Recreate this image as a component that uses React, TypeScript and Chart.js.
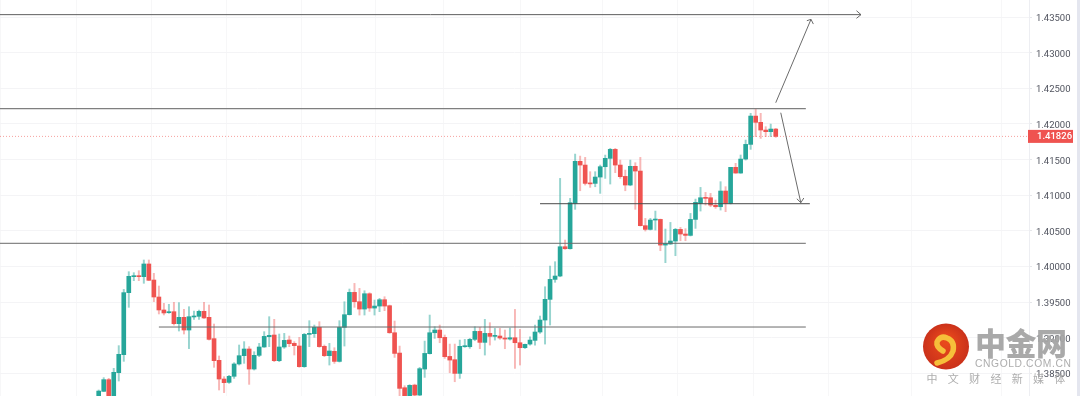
import React, { useEffect, useRef } from "react";
import { Chart, registerables } from "chart.js";

Chart.register(...registerables);

const opens = [
  1.38158,1.38251,1.38415,1.38130,1.38513,1.38765,1.39635,1.39859,1.39868,1.39859,1.40037,1.39812,1.39574,1.39392,1.39354,1.39368,1.39200,1.39289,1.39111,1.39294,
  1.39303,1.39373,1.39289,1.38990,1.38686,1.38424,1.38377,1.38462,1.38635,1.38751,1.38845,1.38564,1.38756,1.38873,1.39018,1.39041,1.38681,1.38873,1.38971,1.38924,
  1.38887,1.38597,1.39050,1.39060,1.39149,1.38882,1.38751,1.38812,1.38671,1.39148,1.39326,1.39639,1.39508,1.39405,1.39620,1.39419,1.39447,1.39536,1.39452,1.39073,
  1.38788,1.38302,1.38158,1.38339,1.38199,1.38564,1.38779,1.39073,1.39111,1.39008,1.38741,1.38695,1.38503,1.38877,1.38877,1.38980,1.39092,1.38938,1.39064,1.39022,
  1.39027,1.38999,1.38984,1.39003,1.38933,1.38863,1.38914,1.38966,1.39083,1.39251,1.39541,1.39821,1.39868,1.40279,1.40251,1.40887,1.41476,1.41424,1.41167,1.41167,
  1.41256,1.41401,1.41518,1.41644,1.41424,1.41265,1.41144,1.41406,1.41340,1.40574,1.40522,1.40653,1.40662,1.40302,1.40317,1.40359,1.40522,1.40457,1.40438,1.40662,
  1.40887,1.40966,1.40966,1.40859,1.40840,1.41060,1.40887,1.41392,1.41312,1.41508,1.41714,1.42111,1.42023,1.41915,1.41892,1.41929,
];
const closes = [
  1.38255,1.38415,1.38116,1.38518,1.38770,1.39635,1.39864,1.39868,1.39859,1.40037,1.39808,1.39574,1.39392,1.39350,1.39368,1.39200,1.39289,1.39111,1.39298,1.39308,
  1.39373,1.39280,1.38980,1.38681,1.38424,1.38373,1.38462,1.38635,1.38751,1.38845,1.38564,1.38756,1.38873,1.39022,1.39036,1.38681,1.38873,1.38966,1.38920,1.38892,
  1.38597,1.39050,1.39064,1.39149,1.38878,1.38751,1.38817,1.38671,1.39148,1.39326,1.39639,1.39508,1.39405,1.39620,1.39419,1.39447,1.39536,1.39447,1.39073,1.38783,
  1.38293,1.38130,1.38335,1.38199,1.38569,1.38783,1.39073,1.39111,1.39003,1.38737,1.38690,1.38503,1.38882,1.38886,1.38980,1.39092,1.38938,1.39064,1.39022,1.39031,
  1.38999,1.38984,1.39003,1.38933,1.38863,1.38910,1.38970,1.39083,1.39251,1.39541,1.39821,1.39868,1.40279,1.40251,1.40896,1.41476,1.41424,1.41167,1.41160,1.41256,
  1.41401,1.41518,1.41644,1.41424,1.41261,1.41144,1.41406,1.41340,1.40574,1.40522,1.40653,1.40667,1.40302,1.40326,1.40359,1.40522,1.40457,1.40438,1.40662,1.40901,
  1.40966,1.40957,1.40863,1.40840,1.41060,1.40887,1.41392,1.41312,1.41508,1.41714,1.42111,1.42023,1.41915,1.41892,1.41929,1.41826,
];
const highs = [
  1.38270,1.38443,1.38434,1.38574,1.38892,1.39681,1.39929,1.39915,1.39943,1.40093,1.40093,1.39906,1.39728,1.39485,1.39471,1.39499,1.39495,1.39401,1.39438,1.39378,
  1.39392,1.39499,1.39462,1.39195,1.38747,1.38457,1.38476,1.38653,1.38901,1.38948,1.38878,1.38807,1.38924,1.39088,1.39298,1.39261,1.39055,1.39064,1.39027,1.38948,
  1.39008,1.39064,1.39242,1.39181,1.39228,1.38901,1.38924,1.38863,1.39242,1.39508,1.39686,1.39765,1.39695,1.39662,1.39634,1.39531,1.39555,1.39578,1.39461,1.39237,
  1.38886,1.38330,1.38345,1.38352,1.38587,1.38956,1.39321,1.39157,1.39181,1.39041,1.38914,1.38914,1.38970,1.38980,1.38994,1.39157,1.39148,1.39260,1.39214,1.39134,
  1.39134,1.39111,1.39139,1.39400,1.39120,1.38914,1.39017,1.39181,1.39307,1.39718,1.40008,1.40069,1.41237,1.40373,1.40957,1.41578,1.41550,1.41532,1.41331,1.41331,
  1.41424,1.41564,1.41658,1.41658,1.41494,1.41354,1.41494,1.41457,1.41532,1.40676,1.40676,1.40779,1.40667,1.40527,1.40620,1.40536,1.40550,1.40532,1.40746,1.40947,
  1.41111,1.41041,1.41027,1.40934,1.41191,1.41121,1.41392,1.41448,1.41565,1.41775,1.42149,1.42205,1.42149,1.41962,1.41999,1.41938,
];
const lows = [
  1.38120,1.38247,1.38100,1.38110,1.38396,1.38672,1.39429,1.39803,1.39803,1.39766,1.39803,1.39509,1.39336,1.39322,1.39345,1.39181,1.39097,1.39055,1.38850,1.39261,
  1.39261,1.39275,1.38971,1.38588,1.38270,1.38233,1.38363,1.38433,1.38620,1.38644,1.38349,1.38550,1.38737,1.38868,1.38878,1.38667,1.38667,1.38854,1.38878,1.38761,
  1.38588,1.38588,1.38878,1.39008,1.38868,1.38737,1.38620,1.38643,1.38662,1.38886,1.39321,1.39429,1.39321,1.39321,1.39372,1.39321,1.39368,1.39382,1.39064,1.38727,
  1.38185,1.38100,1.38130,1.38150,1.38185,1.38447,1.38774,1.38994,1.38933,1.38713,1.38512,1.38386,1.38433,1.38868,1.38854,1.38961,1.38849,1.38760,1.38900,1.38970,
  1.38980,1.38849,1.38970,1.38573,1.38620,1.38854,1.38900,1.38900,1.39064,1.38914,1.39181,1.39780,1.39858,1.40242,1.40246,1.40803,1.41064,1.41144,1.41111,1.41120,
  1.41027,1.41237,1.41158,1.41317,1.41237,1.41064,1.41134,1.40803,1.40569,1.40499,1.40513,1.40513,1.40223,1.40055,1.40312,1.40153,1.40363,1.40363,1.40429,1.40536,
  1.40779,1.40863,1.40840,1.40817,1.40793,1.40770,1.40878,1.41308,1.41308,1.41494,1.41644,1.41822,1.41798,1.41822,1.41822,1.41812,
];

const priceTicks = [1.385, 1.39, 1.395, 1.4, 1.405, 1.41, 1.415, 1.42, 1.425, 1.43, 1.435];
const timeGridBars = [-12, 3, 18, 33, 48, 62.2, 75.2, 93, 108, 123, 138, 153, 171];
const lastPrice = 1.41826;

const FIRST_BAR = -19.68;
const LAST_BAR = 185.5;

const horizontalLines = [
  { from: FIRST_BAR, to: 152, price: 1.43533, color: "#5f5f5f", width: 1 },
  { from: FIRST_BAR, to: 141, price: 1.42214, color: "#7f7f7f", width: 1.2 },
  { from: 88, to: 141.8, price: 1.40882, color: "#4a4a4a", width: 1 },
  { from: FIRST_BAR, to: 141, price: 1.40327, color: "#6a6a6a", width: 1 },
  { from: 12, to: 141, price: 1.39153, color: "#6a6a6a", width: 1 },
];
const arrowSegments = [
  [[151.1, 1.43588], [152, 1.43533], [151.1, 1.43481]],
  [[135, 1.42298], [142.03, 1.43467]],
  [[141.2, 1.43448], [142.03, 1.43467], [142.5, 1.43401]],
  [[136, 1.42158], [140, 1.40896]],
  [[139.2, 1.40952], [140, 1.40896], [140.6, 1.40962]],
];

const UP = "#26a69a";
const DOWN = "#ef5350";
const UP_WICK = "rgba(38,166,154,0.48)";
const DOWN_WICK = "rgba(239,83,80,0.42)";

const overlay = {
  id: "overlay",
  afterDraw(chart: any) {
    const { ctx, chartArea, scales } = chart;
    const y = scales.y.getPixelForValue(lastPrice);
    ctx.save();
    ctx.fillStyle = "#e4e6ef";
    ctx.fillRect(1077, 0, 3, 396);
    ctx.fillStyle = DOWN;
    ctx.fillRect(chartArea.right - 1, y - 6.5, 45, 13);
    ctx.fillStyle = "#ffffff";
    ctx.font = "500 9.5px Roboto";
    ctx.textBaseline = "middle";
    ctx.fillText(lastPrice.toFixed(5), 1037, y + 0.5);

    const grad = ctx.createRadialGradient(946, 340, 4, 946, 347, 24);
    grad.addColorStop(0, "#e8481c");
    grad.addColorStop(1, "#c9301a");
    ctx.fillStyle = grad;
    ctx.beginPath();
    ctx.arc(946, 346.5, 23, 0, Math.PI * 2);
    ctx.fill();
    ctx.strokeStyle = "#f6bf3a";
    ctx.lineCap = "round";
    ctx.lineWidth = 5.5;
    ctx.beginPath();
    ctx.moveTo(943, 351);
    ctx.quadraticCurveTo(936, 347, 937, 342);
    ctx.quadraticCurveTo(940, 335, 947, 338);
    ctx.quadraticCurveTo(955, 341, 953, 351);
    ctx.quadraticCurveTo(950, 360, 937, 363);
    ctx.stroke();

    ctx.fillStyle = "rgba(165,165,165,0.96)";
    ctx.textBaseline = "middle";
    ctx.textAlign = "left";
    ctx.font = "900 31px 'Noto Sans CJK SC'";
    ctx.letterSpacing = "-0.5px";
    ctx.fillText("中金网", 975, 343);
    ctx.font = "10.3px 'Liberation Sans'";
    ctx.fillStyle = "rgba(170,170,170,0.96)";
    ctx.letterSpacing = "0.6px";
    ctx.fillText("CNGOLD.COM.CN", 975, 364.5);
    ctx.font = "11px 'Noto Sans CJK SC'";
    ctx.letterSpacing = "10.3px";
    ctx.fillText("中文财经新媒体", 926.5, 378.5);
    ctx.letterSpacing = "0px";
    ctx.restore();
  },
};

const noPadding = (s: any) => {
  s.paddingLeft = 0;
  s.paddingRight = 0;
  s.paddingTop = 0;
  s.paddingBottom = 0;
};

export default function App() {
  const ref = useRef<HTMLCanvasElement | null>(null);
  useEffect(() => {
    if (!ref.current) return;
    const idx = opens.map((_, i) => i);
    const lineBase = {
      type: "line" as const,
      pointRadius: 0,
      fill: false,
      tension: 0,
      order: 0,
      parsing: false as const,
    };
    const chart = new Chart(ref.current, {
      data: {
        datasets: [
          {
            type: "bar",
            label: "wick",
            grouped: false,
            order: 3,
            barThickness: 1.3,
            data: idx.map((i) => ({ x: i, y: [lows[i], highs[i]] })),
            backgroundColor: idx.map((i) => (closes[i] >= opens[i] ? UP_WICK : DOWN_WICK)),
          },
          {
            type: "bar",
            label: "body",
            grouped: false,
            order: 2,
            barThickness: 4,
            minBarLength: 1,
            data: idx.map((i) => ({ x: i, y: [opens[i], closes[i]] })),
            backgroundColor: idx.map((i) => (closes[i] >= opens[i] ? UP : DOWN)),
          },
          {
            ...lineBase,
            label: "last",
            order: 1,
            borderColor: "rgba(239,83,80,0.55)",
            borderWidth: 1,
            borderDash: [1, 2],
            data: [
              { x: FIRST_BAR, y: lastPrice },
              { x: LAST_BAR, y: lastPrice },
            ],
          },
          ...horizontalLines.map((l, i) => ({
            ...lineBase,
            label: "level" + i,
            borderColor: l.color,
            borderWidth: l.width,
            data: [
              { x: l.from, y: l.price },
              { x: l.to, y: l.price },
            ],
          })),
          ...arrowSegments.map((seg, i) => ({
            ...lineBase,
            label: "arrow" + i,
            borderColor: "#6b6b6b",
            borderWidth: 1,
            data: seg.map(([x, y]) => ({ x, y })),
          })),
        ],
      } as any,
      options: {
        animation: false,
        responsive: false,
        layout: { padding: 0 },
        plugins: { legend: { display: false }, tooltip: { enabled: false } },
        scales: {
          x: {
            type: "linear",
            offset: false,
            min: FIRST_BAR,
            max: LAST_BAR,
            afterBuildTicks: (s: any) => {
              s.ticks = timeGridBars.map((value) => ({ value }));
            },
            afterFit: (s: any) => {
              s.height = 0;
              noPadding(s);
            },
            ticks: { display: false },
            border: { display: false },
            grid: { color: "#f7f7f8", drawTicks: false, lineWidth: 1 },
          },
          y: {
            type: "linear",
            position: "right",
            min: 1.381859,
            max: 1.437384,
            afterBuildTicks: (s: any) => {
              s.ticks = priceTicks.map((value) => ({ value }));
            },
            afterFit: (s: any) => {
              s.width = 51;
              noPadding(s);
            },
            ticks: {
              callback: (v: any) => Number(v).toFixed(5),
              color: "#50535e",
              font: { family: "Roboto", size: 9.5 },
              padding: 4,
              labelOffset: 1.5,
            },
            border: { color: "#edeef2" },
            grid: { color: "#f4f4f6", tickColor: "#e6e7ea", tickLength: 3 },
          },
        },
      },
      plugins: [overlay],
    } as any);
    return () => chart.destroy();
  }, []);
  return (
    <div style={{ position: "absolute", left: 0, top: 0, width: 1080, height: 396, background: "#fff" }}>
      <canvas ref={ref} width={1080} height={396} style={{ display: "block", filter: "blur(0.35px)" }} />
    </div>
  );
}
